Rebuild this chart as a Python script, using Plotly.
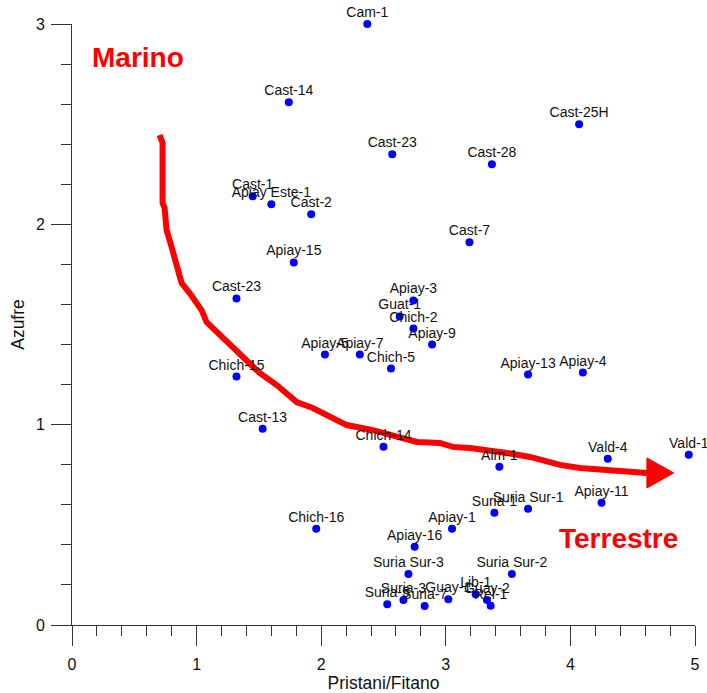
import plotly.graph_objects as go

# ---- data ----
well_names = [
    "Cam-1", "Cast-14", "Cast-25H", "Cast-23", "Cast-28", "Cast-1", "Apiay Este-1",
    "Cast-2", "Apiay-15", "Cast-7", "Cast-23", "Apiay-3", "Guat-1", "Chich-2",
    "Apiay-9", "Apiay-5", "Apiay-7", "Chich-5", "Chich-15", "Apiay-13", "Apiay-4",
    "Cast-13", "Chich-14", "Alm-1", "Vald-4", "Vald-1", "Apiay-11", "Suria Sur-1",
    "Suria-1", "Apiay-1", "Apiay-16", "Chich-16", "Suria Sur-3", "Suria Sur-2",
    "Suria-5", "Suria-3", "Suria-7", "Guay-1", "Lib-1", "Guay-2", "Rel-1",
]
pristano_fitano = [
    2.37, 1.74, 4.07, 2.57, 3.37, 1.45, 1.60,
    1.92, 1.78, 3.19, 1.32, 2.74, 2.63, 2.74,
    2.89, 2.03, 2.31, 2.56, 1.32, 3.66, 4.10,
    1.53, 2.50, 3.43, 4.30, 4.95, 4.25, 3.66,
    3.39, 3.05, 2.75, 1.96, 2.70, 3.53,
    2.53, 2.66, 2.83, 3.02, 3.24, 3.33, 3.36,
]
azufre = [
    3.00, 2.61, 2.50, 2.35, 2.30, 2.14, 2.10,
    2.05, 1.81, 1.91, 1.63, 1.62, 1.54, 1.48,
    1.40, 1.35, 1.35, 1.28, 1.24, 1.25, 1.26,
    0.98, 0.89, 0.79, 0.83, 0.85, 0.61, 0.58,
    0.56, 0.48, 0.39, 0.48, 0.255, 0.255,
    0.103, 0.125, 0.095, 0.128, 0.153, 0.125, 0.096,
]

# trend curve (Marino -> Terrestre)
curve_x = [0.703, 0.727, 0.727, 0.727, 0.743, 0.759, 0.799, 0.839, 0.880, 0.944,
           1.040, 1.080, 1.185, 1.289, 1.402, 1.506, 1.643, 1.723, 1.803, 1.932,
           2.068, 2.205, 2.414, 2.631, 2.767, 2.952, 3.056, 3.193, 3.329, 3.490,
           3.675, 3.811, 3.916, 4.076, 4.237, 4.398, 4.614]
curve_y = [2.446, 2.406, 2.272, 2.107, 2.082, 1.972, 1.887, 1.787, 1.707, 1.657,
           1.572, 1.512, 1.448, 1.383, 1.323, 1.258, 1.198, 1.158, 1.113, 1.083,
           1.038, 0.998, 0.973, 0.939, 0.914, 0.909, 0.889, 0.884, 0.874, 0.859,
           0.839, 0.814, 0.799, 0.784, 0.779, 0.769, 0.759]
arrow_x = [4.614, 4.614, 4.830, 4.614]
arrow_y = [0.834, 0.684, 0.759, 0.834]

x_tick_vals = [0, 1, 2, 3, 4, 5]
y_tick_vals = [0, 1, 2, 3]

FONT = "Liberation Sans, Arial, sans-serif"
AX = "#333333"
TXT = "#111111"

fig = go.Figure()

fig.add_trace(go.Scatter(
    x=curve_x, y=curve_y, mode="lines",
    line=dict(color="#ff0000", width=6), hoverinfo="skip", showlegend=False,
    cliponaxis=False,
))
fig.add_trace(go.Scatter(
    x=arrow_x, y=arrow_y, mode="lines", fill="toself", fillcolor="#ff0000",
    line=dict(color="#ff0000", width=1), hoverinfo="skip", showlegend=False,
    cliponaxis=False,
))
fig.add_trace(go.Scatter(
    x=pristano_fitano, y=azufre, mode="markers",
    marker=dict(color="#0000ff", size=8),
    showlegend=False, cliponaxis=False, hoverinfo="skip",
))
fig.add_trace(go.Scatter(
    x=pristano_fitano, y=azufre, mode="markers+text",
    text=well_names, textposition="top center",
    textfont=dict(family=FONT, size=14, color=TXT),
    marker=dict(size=4, color="rgba(0,0,0,0)"),
    showlegend=False, cliponaxis=False,
))

fig.add_annotation(x=0.526, y=2.833, xref="x", yref="y", text="<b>Marino</b>",
                   showarrow=False, font=dict(family=FONT, size=28, color="#ff0000"))
fig.add_annotation(x=4.39, y=0.434, xref="x", yref="y", text="<b>Terrestre</b>",
                   showarrow=False, font=dict(family=FONT, size=28, color="#ff0000"))

fig.update_layout(
    width=707, height=693,
    margin=dict(l=72, r=12, t=24, b=68),
    paper_bgcolor="white", plot_bgcolor="white",
    font=dict(family=FONT, color=TXT),
    xaxis=dict(
        range=[0, 5], tickvals=x_tick_vals, showgrid=False, zeroline=False,
        automargin=False,
        showline=True, linecolor=AX, linewidth=1,
        ticks="outside", ticklen=20, tickcolor=AX, tickwidth=1,
        ticklabelstandoff=5,
        minor=dict(dtick=0.2, ticklen=10, ticks="outside", tickcolor=AX, showgrid=False),
        tickfont=dict(family=FONT, size=16, color=TXT),
        title=dict(text="Pristani/Fitano", font=dict(family=FONT, size=17.5, color=TXT),
                   standoff=6),
    ),
    yaxis=dict(
        range=[0, 3], tickvals=y_tick_vals, showgrid=False, zeroline=False,
        automargin=False,
        showline=True, linecolor=AX, linewidth=1,
        ticks="outside", ticklen=20, tickcolor=AX, tickwidth=1,
        ticklabelstandoff=3,
        minor=dict(dtick=0.2, ticklen=10, ticks="outside", tickcolor=AX, showgrid=False),
        tickfont=dict(family=FONT, size=16, color=TXT),
        title=dict(text="Azufre", font=dict(family=FONT, size=17.5, color=TXT),
                   standoff=6),
    ),
)

fig.write_html("out.html")
